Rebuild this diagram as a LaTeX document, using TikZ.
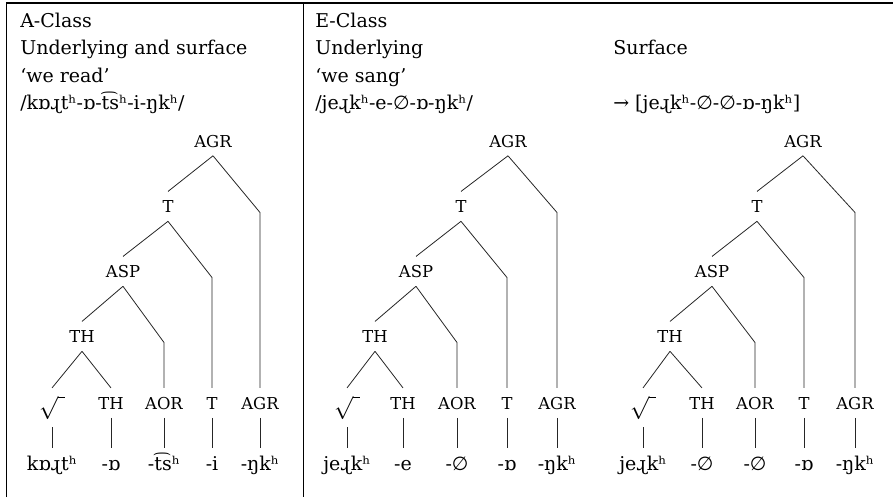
\documentclass[tikz,border=0pt]{standalone}
\usepackage{fontspec}
\setmainfont{DejaVu Serif}
\newfontfamily\symfont{DejaVu Sans}
\usetikzlibrary{positioning}

\newcommand\catsize{\fontsize{12.3pt}{13pt}\selectfont}
\newcommand\txtsize{\fontsize{14.25pt}{17pt}\selectfont}
\newcommand\nul{{\symfont ∅}}

\begin{document}
\begin{tikzpicture}[x=0.75pt,y=-0.75pt,
  cat/.style={font=\catsize, inner sep=0pt, anchor=base,
              text height=15.6pt, text depth=6.4pt},
  root/.style={cat, font=\fontsize{16pt}{18pt}\selectfont, text depth=13.5pt},
  form/.style={font=\txtsize, inner sep=0pt, anchor=base,
               text height=16.5pt, text depth=0pt},
  head/.style={font=\txtsize, inner sep=0pt, anchor=base west},
  branch/.style={line width=0.6pt, black!85},
  tablerule/.style={line width=0.8pt}]

\useasboundingbox (0,0) rectangle (893,497);

\draw[tablerule] (6.5,497) -- (6.5,3) -- (893,3);
\draw[tablerule] (303.5,3) -- (303.5,497);

\node[head] (aclass) at (20,27) {A-Class};
\node[head] (aund)   at (20,54.5) {Underlying and surface};
\node[head] (agloss) at (20,82) {‘we read’};
\node[head] (aform)  at (20,109) {/kɒɻtʰ-ɒ-t͡sʰ-i-ŋkʰ/};

\node[head] (bclass) at (315,27) {E-Class};
\node[head] (bund)   at (315,54.5) {Underlying};
\node[head] (bgloss) at (315,82) {‘we sang’};
\node[head] (bform)  at (315,109) {/jeɻkʰ-e-\nul-ɒ-ŋkʰ/};

\node[head] (csurf)  at (613,54.5) {Surface};
\node[head] (cform)  at (613,109) {→ [jeɻkʰ-\nul-\nul-ɒ-ŋkʰ]};

\node[cat]  (aagr)  at (213,147)   {AGR};
\node[cat]  (at)    at (168,212.5) {T};
\node[cat]  (aasp)  at (123,277.5) {ASP};
\node[cat]  (ath)   at (82,342.5)  {TH};
\node[root] (aroot) at (52,409)    {$\sqrt{\;}$};
\node[cat]  (athl)  at (111,409)   {TH};
\node[cat]  (aaor)  at (164,409)   {AOR};
\node[cat]  (atl)   at (212,409)   {T};
\node[cat]  (aagrl) at (260,409)   {AGR};
\node[form] (aw1) at (52,470)  {kɒɻtʰ};
\node[form] (aw2) at (111,470) {-ɒ};
\node[form] (aw3) at (164,470) {-t͡sʰ};
\node[form] (aw4) at (212,470) {-i};
\node[form] (aw5) at (260,470) {-ŋkʰ};

\draw[branch] (aagr.south) -- (at.north);
\draw[branch] (aagr.south) -- (aagrl.north |- at.base) -- (aagrl.north);
\draw[branch] (at.south) -- (aasp.north);
\draw[branch] (at.south) -- (atl.north |- aasp.base) -- (atl.north);
\draw[branch] (aasp.south) -- (ath.north);
\draw[branch] (aasp.south) -- (aaor.north |- ath.base) -- (aaor.north);
\draw[branch] (ath.south) -- (aroot.north);
\draw[branch] (ath.south) -- (athl.north);
\draw[branch] (aroot.south) -- (aw1.north);
\draw[branch] (athl.south) -- (aw2.north);
\draw[branch] (aaor.south) -- (aw3.north);
\draw[branch] (atl.south) -- (aw4.north);
\draw[branch] (aagrl.south) -- (aw5.north);

\node[cat]  (bagr)  at (508,147)   {AGR};
\node[cat]  (bt)    at (461,212.5) {T};
\node[cat]  (basp)  at (416,277.5) {ASP};
\node[cat]  (bth)   at (375,342.5) {TH};
\node[root] (broot) at (347,409)   {$\sqrt{\;}$};
\node[cat]  (bthl)  at (403,409)   {TH};
\node[cat]  (baor)  at (457,409)   {AOR};
\node[cat]  (btl)   at (507,409)   {T};
\node[cat]  (bagrl) at (557,409)   {AGR};
\node[form] (bw1) at (347,470) {jeɻkʰ};
\node[form] (bw2) at (403,470) {-e};
\node[form] (bw3) at (457,470) {-\nul};
\node[form] (bw4) at (507,470) {-ɒ};
\node[form] (bw5) at (557,470) {-ŋkʰ};

\draw[branch] (bagr.south) -- (bt.north);
\draw[branch] (bagr.south) -- (bagrl.north |- bt.base) -- (bagrl.north);
\draw[branch] (bt.south) -- (basp.north);
\draw[branch] (bt.south) -- (btl.north |- basp.base) -- (btl.north);
\draw[branch] (basp.south) -- (bth.north);
\draw[branch] (basp.south) -- (baor.north |- bth.base) -- (baor.north);
\draw[branch] (bth.south) -- (broot.north);
\draw[branch] (bth.south) -- (bthl.north);
\draw[branch] (broot.south) -- (bw1.north);
\draw[branch] (bthl.south) -- (bw2.north);
\draw[branch] (baor.south) -- (bw3.north);
\draw[branch] (btl.south) -- (bw4.north);
\draw[branch] (bagrl.south) -- (bw5.north);

\node[cat]  (cagr)  at (803,147)   {AGR};
\node[cat]  (ct)    at (757,212.5) {T};
\node[cat]  (casp)  at (712,277.5) {ASP};
\node[cat]  (cth)   at (670,342.5) {TH};
\node[root] (croot) at (643,409)   {$\sqrt{\;}$};
\node[cat]  (cthl)  at (702,409)   {TH};
\node[cat]  (caor)  at (755,409)   {AOR};
\node[cat]  (ctl)   at (804,409)   {T};
\node[cat]  (cagrl) at (855,409)   {AGR};
\node[form] (cw1) at (643,470) {jeɻkʰ};
\node[form] (cw2) at (702,470) {-\nul};
\node[form] (cw3) at (755,470) {-\nul};
\node[form] (cw4) at (804,470) {-ɒ};
\node[form] (cw5) at (855,470) {-ŋkʰ};

\draw[branch] (cagr.south) -- (ct.north);
\draw[branch] (cagr.south) -- (cagrl.north |- ct.base) -- (cagrl.north);
\draw[branch] (ct.south) -- (casp.north);
\draw[branch] (ct.south) -- (ctl.north |- casp.base) -- (ctl.north);
\draw[branch] (casp.south) -- (cth.north);
\draw[branch] (casp.south) -- (caor.north |- cth.base) -- (caor.north);
\draw[branch] (cth.south) -- (croot.north);
\draw[branch] (cth.south) -- (cthl.north);
\draw[branch] (croot.south) -- (cw1.north);
\draw[branch] (cthl.south) -- (cw2.north);
\draw[branch] (caor.south) -- (cw3.north);
\draw[branch] (ctl.south) -- (cw4.north);
\draw[branch] (cagrl.south) -- (cw5.north);
\end{tikzpicture}
\end{document}
